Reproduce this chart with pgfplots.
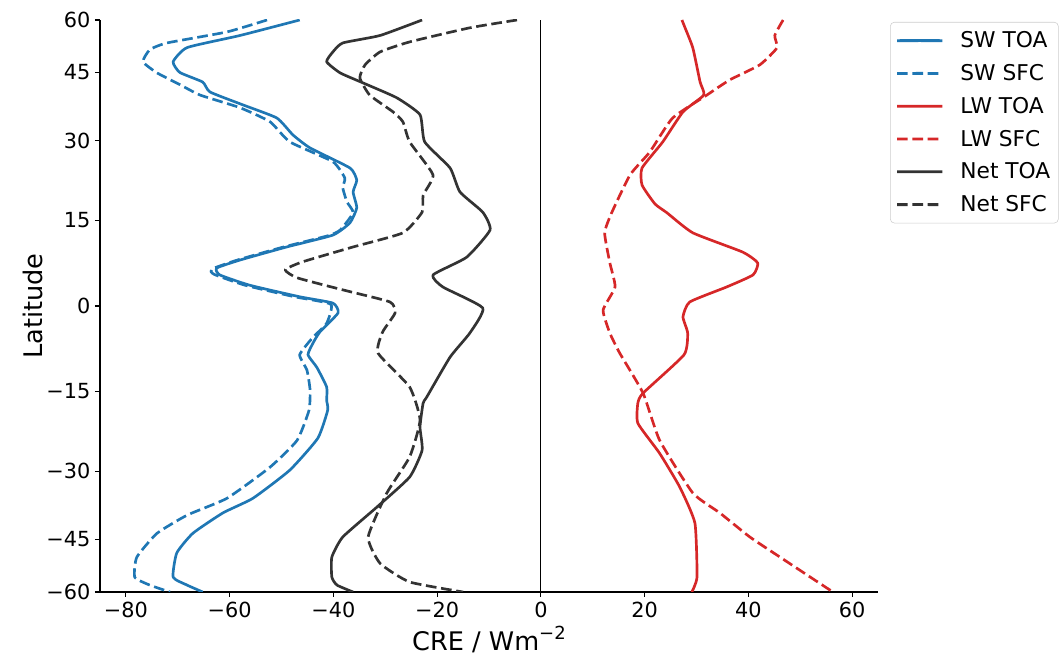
\documentclass[border=0pt]{standalone}
\usepackage{pgfplots}
\pgfplotsset{compat=1.18}
\usepackage{fontspec}
\setmainfont{DejaVu Sans}

\definecolor{swblue}{HTML}{1F77B4}
\definecolor{lwred}{HTML}{D62728}
\definecolor{netgray}{HTML}{333333}

\begin{document}
\begin{tikzpicture}
\begin{axis}[
  name=ax,
  scale only axis,
  width=583.5pt, height=429pt,
  xmin=-85, xmax=65,
  ymin=-60, ymax=60,
  y coord trafo/.code={\pgfmathparse{sin(#1)}},
  y coord inv trafo/.code={\pgfmathparse{asin(#1)}},
  axis x line*=bottom,
  axis y line*=left,
  axis line style={line width=0.8pt},
  tick align=outside,
  major tick length=3.75pt,
  tick style={black, line width=0.8pt},
  xtick={-80,-60,-40,-20,0,20,40,60},
  xticklabels={−80,−60,−40,−20,0,20,40,60},
  ytick={-60,-45,-30,-15,0,15,30,45,60},
  yticklabels={−60,−45,−30,−15,0,15,30,45,60},
  ticklabel style={font=\fontsize{15.6}{18}\selectfont},
  label style={font=\fontsize{19.2}{23}\selectfont},
  ylabel style={yshift=-4pt},
  xlabel={CRE / Wm\raisebox{0.42em}{\fontsize{13.5}{16}\selectfont −2}},
  ylabel={Latitude},
  legend style={
    at={(1.0155,0.9965)}, anchor=north west,
    draw=black!20, rounded corners=3pt,
    font=\fontsize{16.3}{19}\selectfont,
    inner xsep=4pt, inner ysep=5pt,
    row sep=7pt,
    cells={anchor=west},
  },
  legend image code/.code={%
    \path[draw=none] (0pt,0pt) -- (45.5pt,0pt);
    \draw[#1, line width=2.1pt, line cap=butt] (0pt,0pt) -- (17pt,0.05pt) -- (34pt,0pt);},
  every axis plot/.append style={line width=2pt, line join=round, smooth, tension=0.3},
  dashed style/.style={dash pattern=on 8pt off 3.5pt},
]

% zero reference line
\addplot[black, line width=0.8pt, sharp plot, forget plot] coordinates {(0,-60) (0,60)};

% SW TOA
\addplot[swblue] coordinates {
(-46.5,60) (-58,55) (-68.2,51.5) (-70.9,47.7) (-69.6,45) (-65.2,42.7)
(-63.8,40.4) (-57.4,37.5) (-50.9,34.7) (-47.8,31.2) (-44.5,28.6)
(-36.8,24.7) (-35.5,22.4) (-36.2,20.2) (-35.5,17.3) (-36.8,14.6)
(-40.1,12.4) (-49,10.3) (-58,8.0) (-62.5,6.6) (-61.9,5.4) (-56.1,3.6)
(-46.5,1.6) (-40.1,0.5) (-39.1,-1.2) (-42.6,-4.5) (-43.9,-6.4)
(-44.9,-8.5) (-43.2,-10.7) (-41.3,-14.2) (-41.3,-16.6) (-41.1,-18.4)
(-43,-23.6) (-48.4,-29.8) (-55.5,-35.6) (-61.3,-38.8) (-67.1,-43.5)
(-70.2,-48.4) (-70.9,-55.2) (-68.2,-57.7) (-65.2,-60)
};
\addlegendentry{SW TOA}

% SW SFC
\addplot[swblue, dashed style] coordinates {
(-52.8,60) (-60.5,56.1) (-72.1,52.8) (-75.4,50.9) (-76.7,47.7) (-74,44.9)
(-69.6,42.1) (-65.7,39.7) (-58,36.9) (-52.2,33.9) (-48.4,29.8)
(-40.1,25.9) (-37.8,22.8) (-38.2,21.0) (-37.4,18.4) (-36.2,16.4)
(-38.7,13.3) (-41,12.3) (-50,10.2) (-58.5,8.0) (-63.5,6.4) (-63,5.5)
(-57,3.6) (-47.5,1.6) (-40.5,0.3) (-41.3,-3.0) (-44,-5.5) (-46.5,-8.5)
(-45.1,-11.2) (-44.5,-14.7) (-44.7,-18.4) (-47,-24) (-52.2,-29.2)
(-60.5,-35.6) (-68.2,-39.3) (-74,-43.5) (-77.9,-49.5) (-78.3,-55.2)
(-75.4,-57.7) (-71.5,-60)
};
\addlegendentry{SW SFC}

% LW TOA
\addplot[lwred] coordinates {
(27.2,60) (27.8,57.4) (29.3,51.4) (30.7,42.7) (31.4,39.7) (27.4,36)
(23.5,29.8) (19.5,24.7) (19.5,21.5) (22,18) (24.3,16.4) (29.3,12.8)
(38.9,9.4) (41.8,7.5) (40.9,5.4) (35.8,3.3) (28.7,0.7) (27.4,-1.9)
(28.3,-4.7) (27.6,-8.5) (19.7,-15.3) (18.7,-17.1) (18.7,-20.8)
(22.9,-26.5) (26.8,-33.3) (29.7,-41.1) (30.1,-55.2) (29.1,-60)
};
\addlegendentry{LW TOA}

% LW SFC
\addplot[lwred, dashed style] coordinates {
(46.7,60) (45.1,55) (45.5,51.4) (42.2,46.9) (36.4,43.2) (32,39.7)
(25.4,34.7) (21,27.8) (17.2,23.4) (13.7,16.5) (12.3,12.8) (13.3,7.5)
(14.3,3.3) (12.0,-0.7) (13.3,-4.7) (15.2,-8.2) (19.7,-15.3) (22.9,-24)
(29.3,-34.5) (34.5,-38.8) (40.3,-44.4) (46.1,-49.5) (56.3,-60)
};
\addlegendentry{LW SFC}

% Net TOA
\addplot[netgray] coordinates {
(-22.9,60) (-31,55) (-38.2,52.8) (-40.1,50.3) (-41.3,47.7) (-38.7,44.9)
(-34.3,42.5) (-27.8,39.1) (-23.3,35.4) (-22.4,29.8) (-17.5,24.7)
(-15.6,20.2) (-11.2,16.5) (-9.8,13.3) (-14.3,8.5) (-20.8,5.4)
(-18.9,3.3) (-11.2,-0.35) (-13.7,-4.7) (-17.5,-8.9) (-22,-16)
(-22.7,-17.1) (-23.3,-21.5) (-22.9,-25.9) (-25.3,-31.2) (-31.6,-37.5)
(-38.2,-44.4) (-40.3,-49.5) (-40.3,-55.2) (-39.3,-57.7) (-36.2,-60)
};
\addlegendentry{Net TOA}

% Net SFC
\addplot[netgray, dashed style] coordinates {
(-4.6,60) (-13.7,57.4) (-25.3,53.1) (-31,50.3) (-33.9,46.9) (-34.9,43.7)
(-33,39.7) (-28.5,36) (-26.6,33.9) (-25.3,29.8) (-20.8,23.4) (-22.7,19.6)
(-22.9,16.5) (-26.6,12.8) (-36.2,10.3) (-45.9,7.7) (-49.3,6.3) (-47,4.9)
(-38.2,2.8) (-29.1,0.7) (-28.1,-1.2) (-30.5,-4.5) (-31.4,-8.2)
(-25.3,-14.2) (-23.3,-20.2) (-25.3,-27.2) (-29.7,-34.5) (-33.3,-44.4)
(-31,-51.2) (-25.3,-56.7) (-15,-60)
};
\addlegendentry{Net SFC}

\end{axis}
% page frame with the same margins around the axis box
\path (ax.south west) ++(-75pt,-48pt) coordinate (fa);
\path (ax.north east) ++(135.75pt,15pt) coordinate (fb);
\path[use as bounding box] (fa) rectangle (fb);
\end{tikzpicture}
\end{document}
